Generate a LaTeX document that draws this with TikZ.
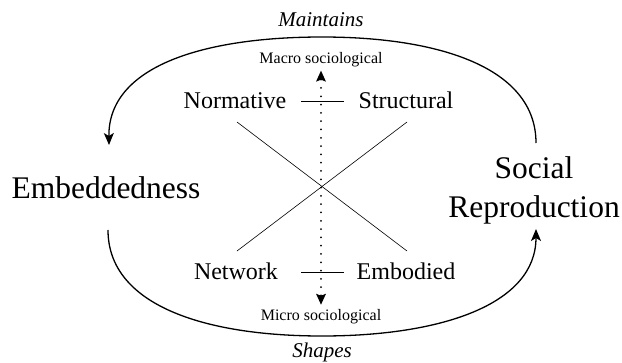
\documentclass[tikz,border=0pt]{standalone}
\usepackage{fontspec}
\setmainfont{Liberation Serif}
\usetikzlibrary{arrows.meta,calc}
\begin{document}
\begin{tikzpicture}[x=1pt,y=-1pt,
  lbl/.style={inner sep=0pt, anchor=base},
  bigterm/.style={inner sep=0pt, font=\fontsize{31.5}{39}\selectfont},
  pole/.style={lbl, font=\fontsize{24}{28}\selectfont},
  levellbl/.style={lbl, font=\fontsize{16}{19}\selectfont},
  verb/.style={lbl, font=\fontsize{21}{25}\selectfont\itshape},
  loop/.style={line width=1.3pt, -{Stealth[length=12pt,width=10pt,inset=3pt]}},
  cross/.style={line width=0.6pt},
  tick/.style={line width=0.8pt},
  levelaxis/.style={line width=2pt, line cap=round, dash pattern=on 0pt off 8.3pt,
    {Stealth[length=11pt,width=10pt,inset=2pt,line width=0pt]}-{Stealth[length=11pt,width=10pt,inset=2pt,line width=0pt]}}
]
\useasboundingbox (0,0) rectangle (622,362);

% main terms
\node[bigterm, anchor=base] (emb) at (106,198) {Embeddedness};
\node[bigterm, align=center] (sr) at (534,190.5) {Social\\Reproduction};

% the four forms
\node[pole] (norm) at (235,108) {Normative};
\node[pole] (struct) at (406,108) {Structural};
\node[pole] (net) at (236,279) {Network};
\node[pole] (body) at (406,279) {Embodied};

% levels and loop labels
\node[levellbl] (macro) at (321,63) {Macro sociological};
\node[levellbl] (micro) at (321,320) {Micro sociological};
\node[verb] (maint) at (321,26) {Maintains};
\node[verb] (shapes) at (322,357.5) {Shapes};

% loop end points
\coordinate (srtop) at (536,143);
\coordinate (srbot) at (536,229);
\coordinate (embtop) at (109,145);
\coordinate (embbot) at (108,230);

% loop: social reproduction maintains embeddedness
\draw[loop] (srtop) .. controls (536,68) and (440,37) .. (322,37)
  .. controls (204,37) and (108,66) .. (embtop);
% loop: embeddedness shapes social reproduction
\draw[loop] (embbot) .. controls (108,305) and (204,336) .. (322,336)
  .. controls (440,336) and (536,305) .. (srbot);

% crossing diagonals
\coordinate (dNW) at (237,122);
\coordinate (dNE) at (407,122);
\coordinate (dSW) at (237,251);
\coordinate (dSE) at (407,251);
\draw[cross] (dNW) -- (dSE);
\draw[cross] (dNE) -- (dSW);

% short ticks between the paired forms
\draw[tick] (301,101) coordinate (tnL) -- (344,101) coordinate (tnR);
\draw[tick] (301,272) coordinate (tsL) -- (344,272) coordinate (tsR);

% macro-micro axis
\draw[levelaxis] ($(macro.south)+(0,4)$) -- ($(micro.north)+(0,-4)$);
\end{tikzpicture}
\end{document}
